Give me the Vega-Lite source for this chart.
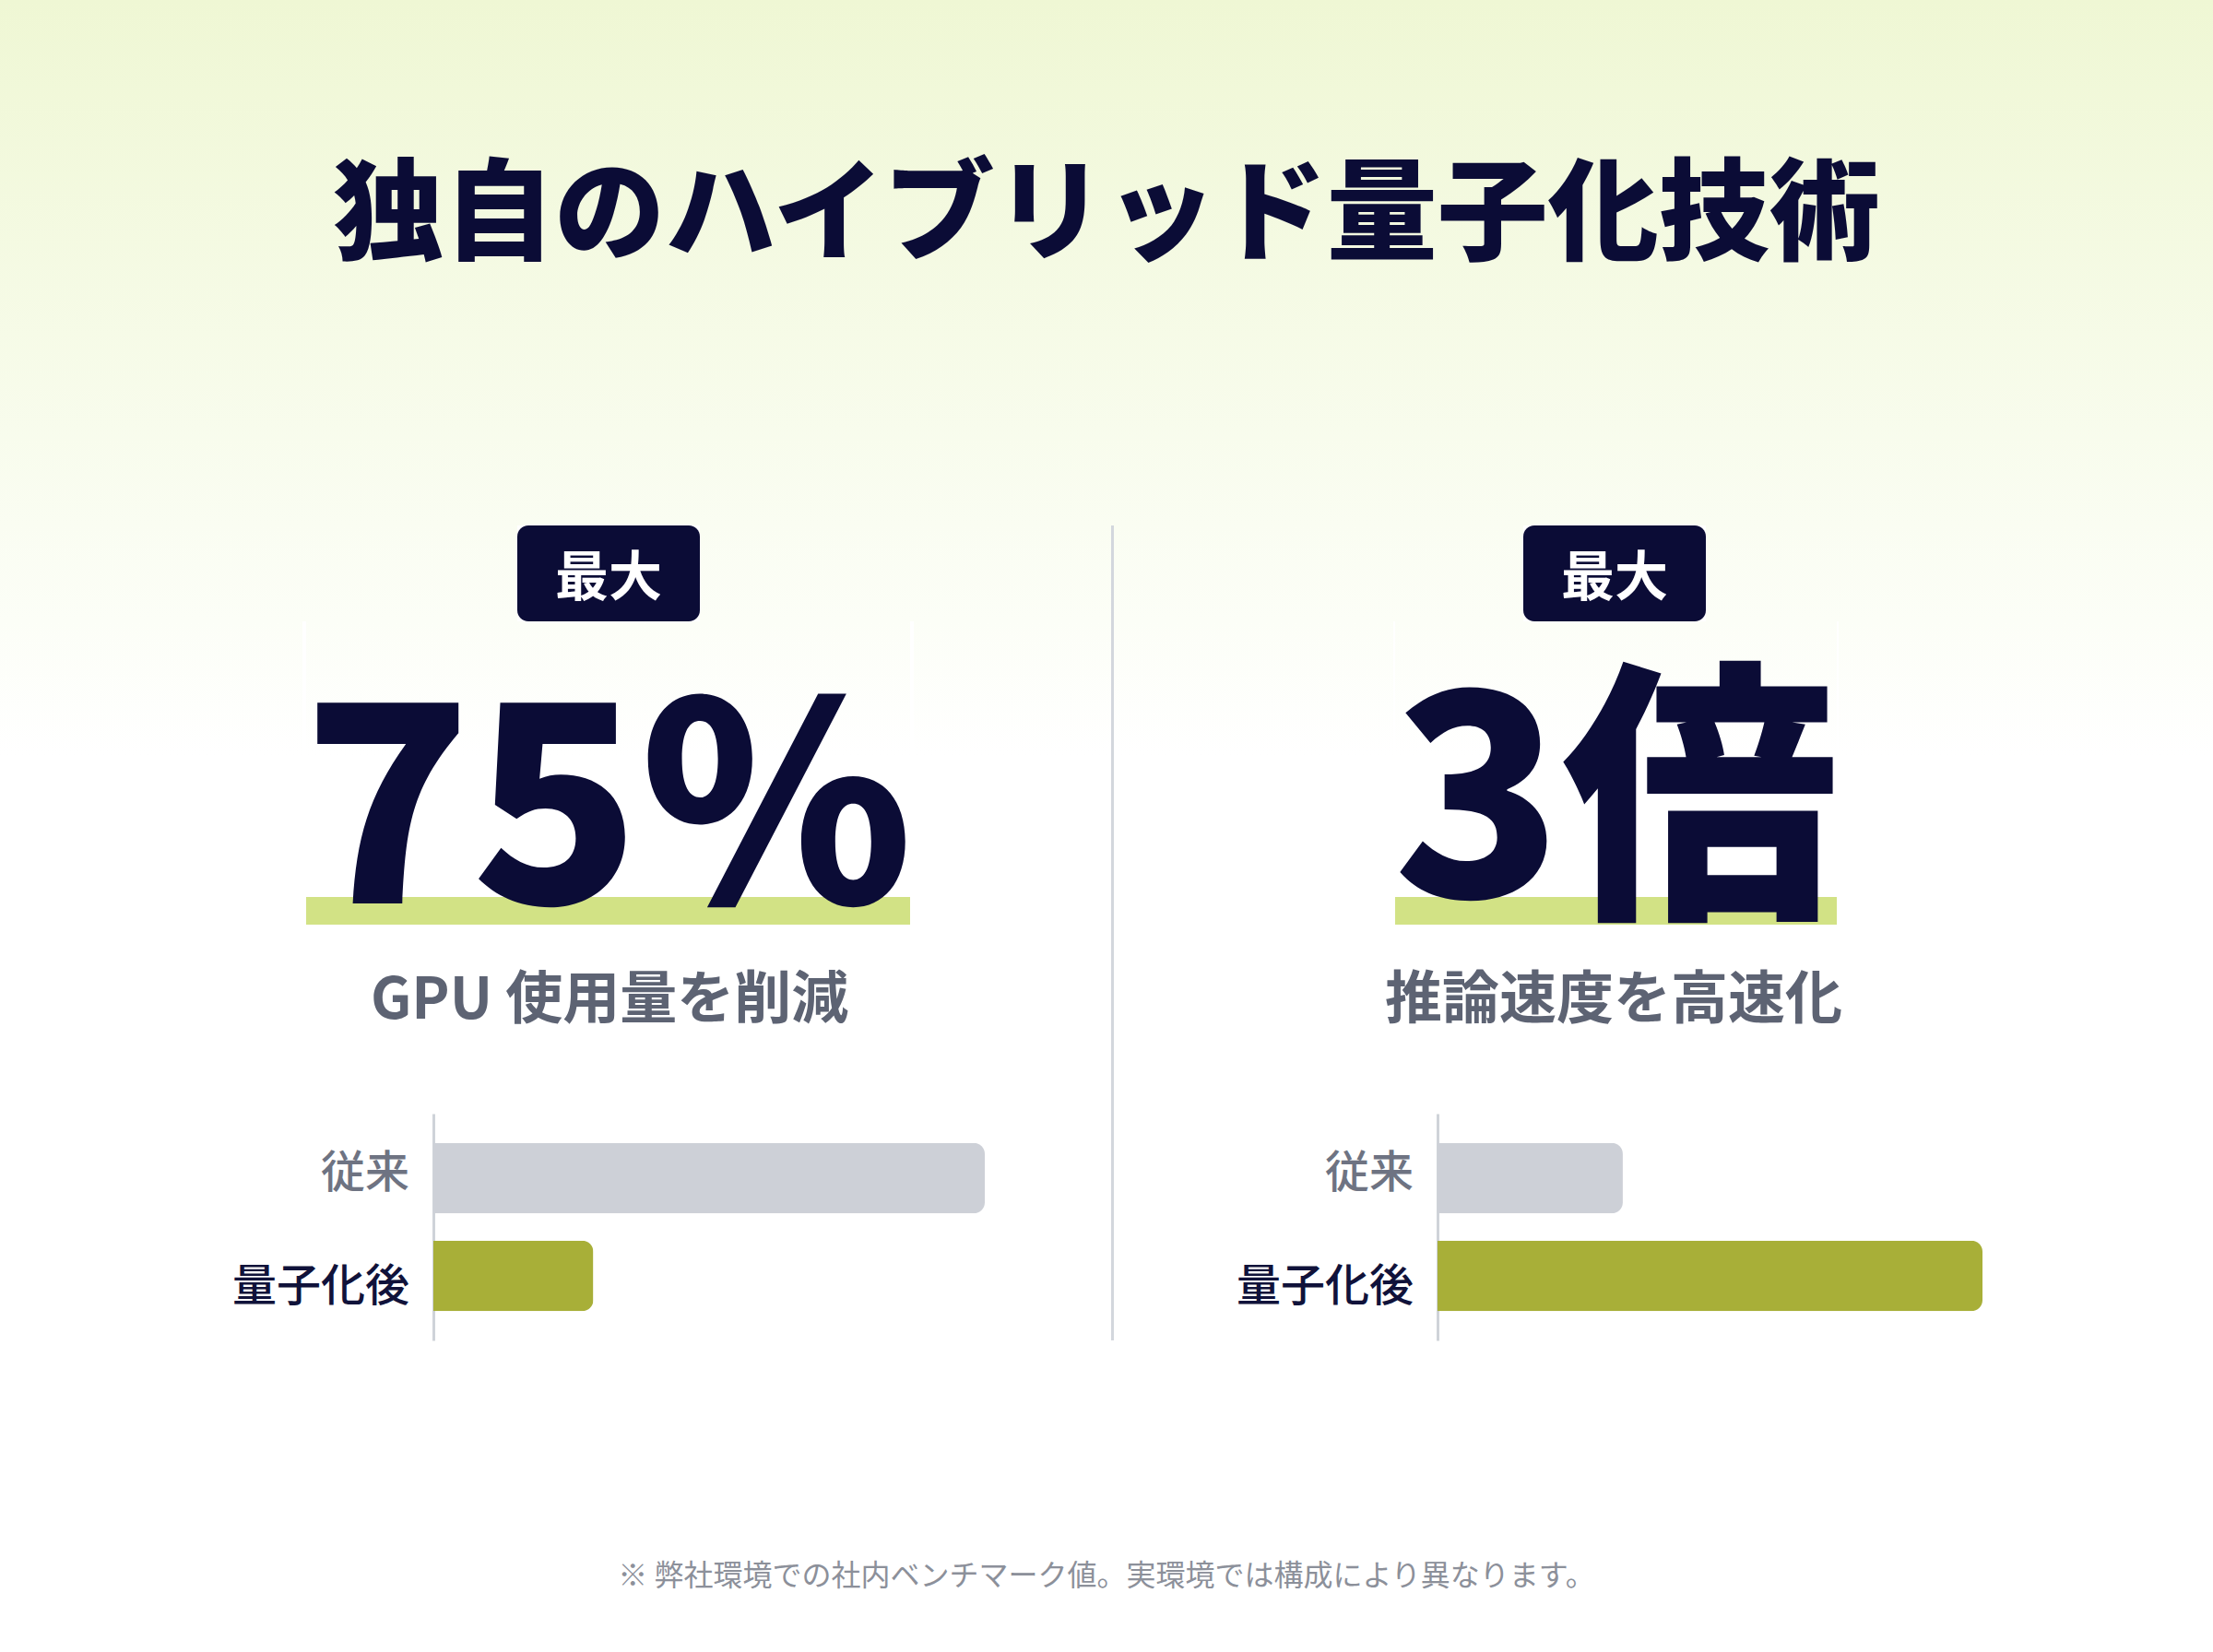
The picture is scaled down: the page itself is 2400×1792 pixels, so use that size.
{
  "$schema": "https://vega.github.io/schema/vega-lite/v6.json",
  "padding": 0,
  "background": "#ffffff",
  "spacing": 0,
  "config": {
    "view": {"stroke": null},
    "font": "Noto Sans CJK JP",
    "concat": {"spacing": 0}
  },
  "datasets": {
    "headline": [{"text": "独自のハイブリッド量子化技術"}],
    "stats": [
      {"panel": "gpu", "badge": "最大", "value": "75%", "caption": "GPU 使用量を削減"},
      {"panel": "speed", "badge": "最大", "value": "3倍", "caption": "推論速度を高速化"}
    ],
    "bars": [
      {"panel": "gpu", "method": "従来", "amount": 100},
      {"panel": "gpu", "method": "量子化後", "amount": 29},
      {"panel": "speed", "method": "従来", "amount": 34},
      {"panel": "speed", "method": "量子化後", "amount": 100}
    ],
    "note": [{"text": "※ 弊社環境での社内ベンチマーク値。実環境では構成により異なります。"}]
  },
  "vconcat": [
    {
      "width": 2400,
      "height": 570,
      "view": {"fill": {"gradient": "linear", "x1": 0, "y1": 0, "x2": 0, "y2": 1, "stops": [{"offset": 0, "color": "#eff7d4"}, {"offset": 1, "color": "#fafdf2"}]}},
      "data": {"name": "headline"},
      "mark": {"type": "text", "fontSize": 120, "fontWeight": 900, "color": "#0b0c36", "align": "center", "baseline": "alphabetic", "dy": -12},
      "encoding": {"text": {"field": "text"}}
    },
    {
      "spacing": 0,
      "hconcat": [
        {
          "spacing": 0,
          "vconcat": [
            {
              "spacing": 0,
              "hconcat": [
                {"width": 561, "height": 104, "view": {"fill": {"gradient": "linear", "x1": 0, "y1": 0, "x2": 0, "y2": 1, "stops": [{"offset": 0, "color": "#fafdf2"}, {"offset": 1, "color": "#fcfef7"}]}}, "data": {"values": []}, "mark": "point"},
                {
                  "width": 198,
                  "height": 104,
                  "view": {"fill": "#0b0c36", "cornerRadius": 12},
                  "data": {"name": "stats"},
                  "transform": [{"filter": "datum.panel === 'gpu'"}],
                  "mark": {"type": "text", "fontSize": 58, "fontWeight": 700, "color": "#ffffff", "align": "center", "baseline": "alphabetic", "dy": 24},
                  "encoding": {"text": {"field": "badge"}}
                },
                {"width": 446, "height": 104, "view": {"fill": {"gradient": "linear", "x1": 0, "y1": 0, "x2": 0, "y2": 1, "stops": [{"offset": 0, "color": "#fafdf2"}, {"offset": 1, "color": "#fcfef7"}]}}, "data": {"values": []}, "mark": "point"}
              ]
            },
            {
              "spacing": 0,
              "hconcat": [
                {"width": 328, "height": 378, "view": {"fill": {"gradient": "linear", "x1": 0, "y1": 0, "x2": 0, "y2": 1, "stops": [{"offset": 0, "color": "#fcfef7"}, {"offset": 0.386, "color": "#ffffff"}, {"offset": 1, "color": "#ffffff"}]}}, "data": {"values": []}, "mark": "point"},
                {
                  "width": 655,
                  "height": 378,
                  "view": {"fill": {"gradient": "linear", "x1": 0, "y1": 0, "x2": 0, "y2": 1, "stops": [{"offset": 0, "color": "#fcfef7"}, {"offset": 0.386, "color": "#ffffff"}, {"offset": 0.791, "color": "#ffffff"}, {"offset": 0.791, "color": "#d2e285"}, {"offset": 0.87, "color": "#d2e285"}, {"offset": 0.87, "color": "#ffffff"}, {"offset": 1, "color": "#ffffff"}]}},
                  "data": {"name": "stats"},
                  "transform": [{"filter": "datum.panel === 'gpu'"}],
                  "mark": {"type": "text", "fontSize": 300, "fontWeight": 900, "color": "#0b0c36", "align": "center", "baseline": "alphabetic", "dy": 117},
                  "encoding": {"text": {"field": "value"}}
                },
                {"width": 214, "height": 378, "view": {"fill": {"gradient": "linear", "x1": 0, "y1": 0, "x2": 0, "y2": 1, "stops": [{"offset": 0, "color": "#fcfef7"}, {"offset": 0.386, "color": "#ffffff"}, {"offset": 1, "color": "#ffffff"}]}}, "data": {"values": []}, "mark": "point"}
              ]
            },
            {
              "spacing": 0,
              "hconcat": [
                {"width": 361, "height": 105, "data": {"values": []}, "mark": "point"},
                {
                  "width": 600,
                  "height": 105,
                  "data": {"name": "stats"},
                  "transform": [{"filter": "datum.panel === 'gpu'"}],
                  "mark": {"type": "text", "fontSize": 62, "fontWeight": 700, "color": "#5d6373", "align": "center", "baseline": "alphabetic", "dy": 0},
                  "encoding": {"text": {"field": "caption"}}
                },
                {"width": 244, "height": 105, "data": {"values": []}, "mark": "point"}
              ]
            },
            {"width": 1205, "height": 51, "data": {"values": []}, "mark": "point"},
            {
              "spacing": 0,
              "hconcat": [
                {"width": 200, "height": 246, "data": {"values": []}, "mark": "point"},
                {
                  "width": 244,
                  "height": 246,
                  "data": {"name": "bars"},
                  "transform": [{"filter": "datum.panel === 'gpu'"}],
                  "mark": {"type": "text", "fontSize": 48, "fontWeight": 500, "align": "right", "baseline": "alphabetic", "dy": 18},
                  "encoding": {
                    "y": {"field": "method", "type": "nominal", "sort": ["従来", "量子化後"], "scale": {"paddingInner": 0.28, "paddingOuter": 0.3}, "axis": null},
                    "x": {"datum": 1, "type": "quantitative", "scale": {"domain": [0, 1]}, "axis": null},
                    "text": {"field": "method"},
                    "color": {"condition": {"test": "datum.method === '従来'", "value": "#6e7382"}, "value": "#10123a"}
                  }
                },
                {"width": 26, "height": 246, "data": {"values": []}, "mark": "point"},
                {
                  "width": 598,
                  "height": 246,
                  "data": {"name": "bars"},
                  "transform": [{"filter": "datum.panel === 'gpu'"}],
                  "mark": {"type": "bar", "cornerRadiusEnd": 12},
                  "encoding": {
                    "y": {
                      "field": "method",
                      "type": "nominal",
                      "sort": ["従来", "量子化後"],
                      "scale": {"paddingInner": 0.28, "paddingOuter": 0.3},
                      "axis": {"title": null, "ticks": false, "labels": false, "domainColor": "#cfd3d9", "domainWidth": 3}
                    },
                    "x": {"field": "amount", "type": "quantitative", "scale": {"domain": [0, 100]}, "axis": null},
                    "color": {"field": "method", "type": "nominal", "scale": {"domain": ["従来", "量子化後"], "range": ["#cdd0d7", "#a8af38"]}, "legend": null}
                  }
                },
                {"width": 137, "height": 246, "data": {"values": []}, "mark": "point"}
              ]
            }
          ]
        },
        {"width": 3, "height": 884, "view": {"fill": "#d3d7dd"}, "data": {"values": []}, "mark": "point"},
        {
          "spacing": 0,
          "vconcat": [
            {
              "spacing": 0,
              "hconcat": [
                {"width": 444, "height": 104, "view": {"fill": {"gradient": "linear", "x1": 0, "y1": 0, "x2": 0, "y2": 1, "stops": [{"offset": 0, "color": "#fafdf2"}, {"offset": 1, "color": "#fcfef7"}]}}, "data": {"values": []}, "mark": "point"},
                {
                  "width": 198,
                  "height": 104,
                  "view": {"fill": "#0b0c36", "cornerRadius": 12},
                  "data": {"name": "stats"},
                  "transform": [{"filter": "datum.panel === 'speed'"}],
                  "mark": {"type": "text", "fontSize": 58, "fontWeight": 700, "color": "#ffffff", "align": "center", "baseline": "alphabetic", "dy": 24},
                  "encoding": {"text": {"field": "badge"}}
                },
                {"width": 550, "height": 104, "view": {"fill": {"gradient": "linear", "x1": 0, "y1": 0, "x2": 0, "y2": 1, "stops": [{"offset": 0, "color": "#fafdf2"}, {"offset": 1, "color": "#fcfef7"}]}}, "data": {"values": []}, "mark": "point"}
              ]
            },
            {
              "spacing": 0,
              "hconcat": [
                {"width": 303, "height": 378, "view": {"fill": {"gradient": "linear", "x1": 0, "y1": 0, "x2": 0, "y2": 1, "stops": [{"offset": 0, "color": "#fcfef7"}, {"offset": 0.386, "color": "#ffffff"}, {"offset": 1, "color": "#ffffff"}]}}, "data": {"values": []}, "mark": "point"},
                {
                  "width": 479,
                  "height": 378,
                  "view": {"fill": {"gradient": "linear", "x1": 0, "y1": 0, "x2": 0, "y2": 1, "stops": [{"offset": 0, "color": "#fcfef7"}, {"offset": 0.386, "color": "#ffffff"}, {"offset": 0.791, "color": "#ffffff"}, {"offset": 0.791, "color": "#d2e285"}, {"offset": 0.87, "color": "#d2e285"}, {"offset": 0.87, "color": "#ffffff"}, {"offset": 1, "color": "#ffffff"}]}},
                  "data": {"name": "stats"},
                  "transform": [{"filter": "datum.panel === 'speed'"}],
                  "mark": {"type": "text", "fontSize": 300, "fontWeight": 900, "color": "#0b0c36", "align": "center", "baseline": "alphabetic", "dy": 110},
                  "encoding": {"text": {"field": "value"}}
                },
                {"width": 410, "height": 378, "view": {"fill": {"gradient": "linear", "x1": 0, "y1": 0, "x2": 0, "y2": 1, "stops": [{"offset": 0, "color": "#fcfef7"}, {"offset": 0.386, "color": "#ffffff"}, {"offset": 1, "color": "#ffffff"}]}}, "data": {"values": []}, "mark": "point"}
              ]
            },
            {
              "spacing": 0,
              "hconcat": [
                {"width": 242, "height": 105, "data": {"values": []}, "mark": "point"},
                {
                  "width": 600,
                  "height": 105,
                  "data": {"name": "stats"},
                  "transform": [{"filter": "datum.panel === 'speed'"}],
                  "mark": {"type": "text", "fontSize": 62, "fontWeight": 700, "color": "#5d6373", "align": "center", "baseline": "alphabetic", "dy": 0},
                  "encoding": {"text": {"field": "caption"}}
                },
                {"width": 350, "height": 105, "data": {"values": []}, "mark": "point"}
              ]
            },
            {"width": 1192, "height": 51, "data": {"values": []}, "mark": "point"},
            {
              "spacing": 0,
              "hconcat": [
                {"width": 81, "height": 246, "data": {"values": []}, "mark": "point"},
                {
                  "width": 244,
                  "height": 246,
                  "data": {"name": "bars"},
                  "transform": [{"filter": "datum.panel === 'speed'"}],
                  "mark": {"type": "text", "fontSize": 48, "fontWeight": 500, "align": "right", "baseline": "alphabetic", "dy": 18},
                  "encoding": {
                    "y": {"field": "method", "type": "nominal", "sort": ["従来", "量子化後"], "scale": {"paddingInner": 0.28, "paddingOuter": 0.3}, "axis": null},
                    "x": {"datum": 1, "type": "quantitative", "scale": {"domain": [0, 1]}, "axis": null},
                    "text": {"field": "method"},
                    "color": {"condition": {"test": "datum.method === '従来'", "value": "#6e7382"}, "value": "#10123a"}
                  }
                },
                {"width": 26, "height": 246, "data": {"values": []}, "mark": "point"},
                {
                  "width": 591,
                  "height": 246,
                  "data": {"name": "bars"},
                  "transform": [{"filter": "datum.panel === 'speed'"}],
                  "mark": {"type": "bar", "cornerRadiusEnd": 12},
                  "encoding": {
                    "y": {
                      "field": "method",
                      "type": "nominal",
                      "sort": ["従来", "量子化後"],
                      "scale": {"paddingInner": 0.28, "paddingOuter": 0.3},
                      "axis": {"title": null, "ticks": false, "labels": false, "domainColor": "#cfd3d9", "domainWidth": 3}
                    },
                    "x": {"field": "amount", "type": "quantitative", "scale": {"domain": [0, 100]}, "axis": null},
                    "color": {"field": "method", "type": "nominal", "scale": {"domain": ["従来", "量子化後"], "range": ["#cdd0d7", "#a8af38"]}, "legend": null}
                  }
                },
                {"width": 250, "height": 246, "data": {"values": []}, "mark": "point"}
              ]
            }
          ]
        }
      ]
    },
    {
      "spacing": 0,
      "vconcat": [
        {"width": 2400, "height": 206, "data": {"values": []}, "mark": "point"},
        {
          "width": 2400,
          "height": 94,
          "data": {"name": "note"},
          "mark": {"type": "text", "fontSize": 32, "color": "#8c909a", "align": "center", "baseline": "alphabetic", "dy": 13},
          "encoding": {"text": {"field": "text"}}
        },
        {"width": 2400, "height": 38, "data": {"values": []}, "mark": "point"}
      ]
    }
  ]
}
